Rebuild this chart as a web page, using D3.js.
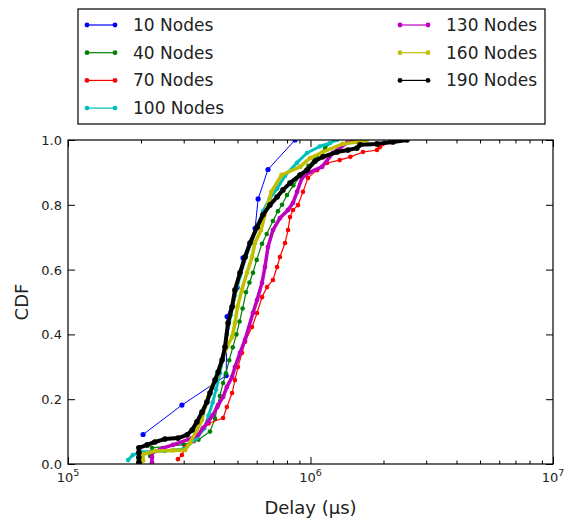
<!DOCTYPE html>
<html>
<head>
<meta charset="utf-8">
<script src="https://cdn.jsdelivr.net/npm/d3@7"></script>
<style>
  body { margin: 0; background: #fff; }
  svg { font-family: "DejaVu Sans", sans-serif; }
</style>
</head>
<body>
<div id="chart"></div>
<script>
// Series data: [delay (µs), CDF]
var nodes10 = [[204000,0.091],[295000,0.182],[449000,0.273],[451000,0.364],[453000,0.455],[498000,0.545],[527000,0.636],[591000,0.727],[608000,0.818],[668000,0.909],[863000,1.0]];
var nodes40 = [[218000,0.025],[222000,0.05],[300000,0.06],[345000,0.075],[385000,0.10],[404000,0.14],[412000,0.175],[423000,0.21],[436000,0.25],[448000,0.28],[462000,0.32],[478000,0.36],[495000,0.40],[510000,0.44],[525000,0.48],[542000,0.53],[560000,0.56],[579000,0.59],[600000,0.63],[631000,0.68],[660000,0.71],[700000,0.75],[734000,0.78],[763000,0.80],[800000,0.83],[850000,0.86],[910000,0.89],[980000,0.92],[1060000,0.95],[1150000,0.975],[1250000,1.0]];
var nodes70 = [[284000,0.015],[295000,0.028],[304000,0.052],[330000,0.07],[380000,0.125],[436000,0.142],[452000,0.176],[475000,0.219],[488000,0.259],[502000,0.299],[522000,0.343],[537000,0.377],[574000,0.423],[602000,0.466],[631000,0.515],[662000,0.546],[700000,0.568],[728000,0.608],[748000,0.639],[785000,0.682],[808000,0.722],[823000,0.762],[847000,0.784],[888000,0.799],[931000,0.840],[976000,0.883],[1064000,0.907],[1170000,0.929],[1320000,0.938],[1460000,0.948],[1646000,0.963],[1880000,0.969],[1930000,0.978],[2130000,0.994],[2290000,1.0]];
var nodes100 = [[177000,0.012],[185000,0.028],[200000,0.037],[250000,0.040],[300000,0.046],[340000,0.08],[365000,0.11],[380000,0.15],[395000,0.19],[408000,0.23],[423000,0.28],[436000,0.33],[452000,0.40],[470000,0.46],[488000,0.52],[512000,0.58],[542000,0.64],[574000,0.69],[608000,0.74],[637000,0.78],[680000,0.82],[728000,0.85],[785000,0.89],[880000,0.93],[967000,0.96],[1090000,0.98],[1200000,0.99],[1286000,1.0]];
var nodes130 = [[222000,0.005],[222000,0.02],[222000,0.034],[246000,0.049],[271000,0.059],[325000,0.080],[344000,0.090],[360000,0.111],[378000,0.130],[396000,0.151],[416000,0.182],[436000,0.207],[452000,0.238],[475000,0.269],[488000,0.299],[512000,0.343],[537000,0.383],[579000,0.466],[602000,0.506],[631000,0.559],[649000,0.608],[668000,0.670],[700000,0.722],[748000,0.759],[808000,0.784],[847000,0.806],[880000,0.840],[922000,0.883],[995000,0.901],[1115000,0.917],[1238000,0.960],[1320000,0.975],[1414000,0.991],[1526000,1.0]];
var nodes160 = [[204000,0.01],[204000,0.03],[230000,0.040],[270000,0.042],[304000,0.043],[318000,0.065],[340000,0.105],[357000,0.136],[367000,0.176],[378000,0.207],[392000,0.238],[412000,0.269],[423000,0.299],[436000,0.330],[452000,0.361],[475000,0.392],[488000,0.435],[500000,0.485],[521000,0.537],[547000,0.590],[574000,0.639],[590000,0.682],[625000,0.722],[660000,0.790],[690000,0.840],[760000,0.892],[905000,0.917],[995000,0.944],[1126000,0.963],[1360000,0.988],[1555000,0.994],[1710000,1.0]];
var nodes190 = [[196000,0.005],[196000,0.02],[196000,0.035],[196000,0.05],[212000,0.059],[228000,0.068],[251000,0.077],[284000,0.080],[310000,0.090],[325000,0.105],[340000,0.130],[357000,0.160],[374000,0.191],[385000,0.219],[404000,0.259],[416000,0.284],[432000,0.321],[444000,0.361],[457000,0.435],[475000,0.485],[488000,0.537],[512000,0.590],[537000,0.639],[563000,0.682],[602000,0.731],[637000,0.769],[680000,0.799],[728000,0.824],[770000,0.846],[823000,0.867],[905000,0.892],[967000,0.907],[1044000,0.935],[1126000,0.948],[1286000,0.963],[1428000,0.969],[1555000,0.975],[1600000,0.985],[1880000,0.988],[2188000,0.994],[2500000,1.0]];

var seriesNames = ["10 Nodes","40 Nodes","70 Nodes","100 Nodes","130 Nodes","160 Nodes","190 Nodes"];
var seriesData = [nodes10, nodes40, nodes70, nodes100, nodes130, nodes160, nodes190];
var seriesColors = ["#0000ff","#008000","#ff0000","#00bfbf","#bf00bf","#bfbf00","#000000"];
var seriesWidth = [1, 1.2, 1.2, 3, 3.5, 3.5, 4];
var seriesRadius = [2.6, 2.3, 2.3, 2.3, 2.4, 2.4, 2.8];

var yTicks = [0, 0.2, 0.4, 0.6, 0.8, 1.0];
var xMajor = [1e5, 1e6, 1e7];

var W = 566, H = 521;
var margin = {top: 140, right: 13, bottom: 57, left: 68},
	width = W - margin.left - margin.right,
	height = H - margin.top - margin.bottom;

var root = d3.select("#chart").append("svg")
	.attr("width", W)
	.attr("height", H);
root.append("rect").attr("width", W).attr("height", H).attr("fill", "#fff");

var svg = root.append("g")
	.attr("transform", "translate(" + margin.left + "," + margin.top + ")");

var xScale = d3.scaleLog().domain([1e5, 1e7]).range([0, width]);
var yScale = d3.scaleLinear().domain([0, 1]).range([height, 0]);

svg.append("clipPath").attr("id", "plotclip")
	.append("rect").attr("width", width).attr("height", height);

// minor ticks for log axis
var xMinor = xScale.ticks().filter(d => xMajor.indexOf(d) < 0);

// ticks pointing inside, on all four sides
function drawTicks(g, axis) { g.call(axis); g.selectAll(".domain").remove(); g.selectAll("text").remove(); g.selectAll("line").attr("stroke", "#000"); }
svg.append("g").attr("transform", "translate(0," + height + ")")
	.call(drawTicks, d3.axisBottom(xScale).tickValues(xMajor).tickSize(-7));
svg.append("g").attr("transform", "translate(0," + height + ")")
	.call(drawTicks, d3.axisBottom(xScale).tickValues(xMinor).tickSize(-3.5));
svg.append("g")
	.call(drawTicks, d3.axisTop(xScale).tickValues(xMajor).tickSize(-7));
svg.append("g")
	.call(drawTicks, d3.axisTop(xScale).tickValues(xMinor).tickSize(-3.5));
svg.append("g")
	.call(drawTicks, d3.axisLeft(yScale).tickValues(yTicks).tickSize(-7));
svg.append("g").attr("transform", "translate(" + width + ",0)")
	.call(drawTicks, d3.axisRight(yScale).tickValues(yTicks).tickSize(-7));

// tick labels
svg.selectAll(".ylab").data(yTicks).enter().append("text")
	.attr("x", -6).attr("y", d => yScale(d) + 5)
	.attr("text-anchor", "end")
	.style("font-size", "13px").attr("fill", "#222")
	.text(d => d.toFixed(1));

var xl = svg.selectAll(".xlab").data(xMajor).enter().append("text")
	.attr("x", d => xScale(d)).attr("y", height + 18)
	.attr("text-anchor", "middle")
	.style("font-size", "13px").attr("fill", "#222");
xl.append("tspan").text("10");
xl.append("tspan").attr("dy", -6).style("font-size", "9.5px").text(d => Math.round(Math.log10(d)));

// axis titles
svg.append("text")
	.attr("x", width / 2).attr("y", height + 50)
	.attr("text-anchor", "middle")
	.style("font-size", "18px").attr("fill", "#222")
	.text("Delay (µs)");
svg.append("text")
	.attr("transform", "translate(-40," + (height / 2) + ") rotate(-90)")
	.attr("text-anchor", "middle")
	.style("font-size", "18px").attr("fill", "#222")
	.text("CDF");

// series
var plot = svg.append("g").attr("clip-path", "url(#plotclip)");
var line = d3.line().x(d => xScale(d[0])).y(d => yScale(d[1]));
seriesData.forEach(function(rows, i) {
	var g = plot.append("g");
	g.append("path")
		.datum(rows)
		.attr("fill", "none")
		.attr("stroke", seriesColors[i])
		.attr("stroke-width", seriesWidth[i])
		.attr("stroke-linejoin", "round")
		.attr("d", line);
	g.selectAll("circle").data(rows).enter().append("circle")
		.attr("cx", d => xScale(d[0]))
		.attr("cy", d => yScale(d[1]))
		.attr("r", seriesRadius[i])
		.attr("fill", seriesColors[i]);
});

// frame
svg.append("rect")
	.attr("width", width).attr("height", height)
	.attr("fill", "none").attr("stroke", "#000").attr("stroke-width", 1.2);

// legend
var legend = root.append("g");
legend.append("rect")
	.attr("x", 78).attr("y", 9).attr("width", 467).attr("height", 115)
	.attr("fill", "#fff").attr("stroke", "#000").attr("stroke-width", 1.2);
seriesNames.forEach(function(name, i) {
	var col = i < 4 ? 0 : 1, row = i < 4 ? i : i - 4;
	var lx = col == 0 ? 87 : 400, ly = 25 + row * 27.7;
	var g = legend.append("g");
	g.append("line").attr("x1", lx).attr("x2", lx + 28).attr("y1", ly).attr("y2", ly)
		.attr("stroke", seriesColors[i]).attr("stroke-width", 1.2);
	g.selectAll("circle").data([lx, lx + 28]).enter().append("circle")
		.attr("cx", d => d).attr("cy", ly).attr("r", 2.4).attr("fill", seriesColors[i]);
	g.append("text").attr("x", lx + 46).attr("y", ly + 6)
		.style("font-size", "17px").attr("fill", "#222")
		.text(name);
});
</script>
</body>
</html>
